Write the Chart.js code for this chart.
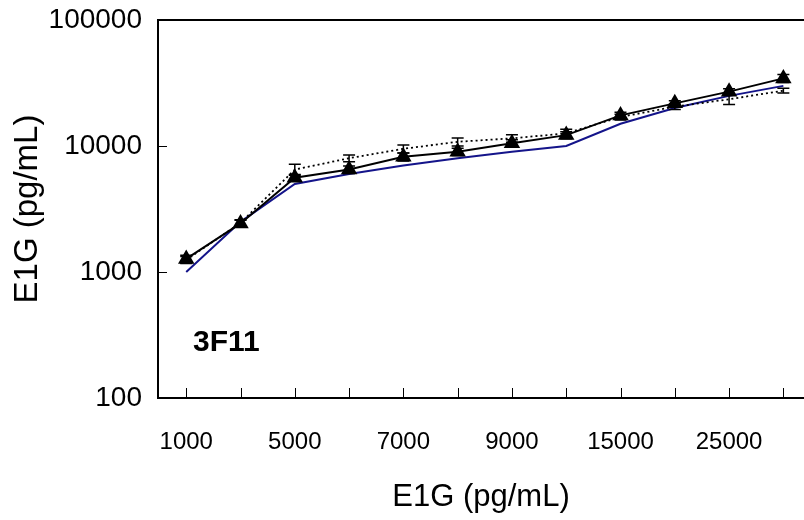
<!DOCTYPE html>
<html>
<head>
<meta charset="utf-8">
<script src="https://cdn.jsdelivr.net/npm/chart.js@4.4.1/dist/chart.umd.min.js"></script>
<style>
  body { margin: 0; background: #fff; }
  #wrap { width: 804px; height: 520px; }
</style>
</head>
<body>
<div id="wrap"><canvas id="e1gChart" width="804" height="520"></canvas></div>
<script>
// spiked E1G concentration (pg/mL)
const xLabels = ['1000', '2500', '5000', '6000', '7000', '8000', '9000', '10000', '15000', '20000', '25000', '30000'];
const expected = [1000, 2500, 5000, 6000, 7000, 8000, 9000, 10000, 15000, 20000, 25000, 30000];

// measured E1G, solid series with triangles
const measured = [1270, 2430, 5600, 6500, 8200, 9000, 10500, 12200, 17500, 21800, 27000, 34400];
const measuredErr = [90, 150, 350, 450, 600, 600, 700, 800, 1000, 1100, 1500, 2500];

// measured E1G, dotted series
const dotted = [1250, 2450, 6500, 8000, 9500, 10800, 11500, 12600, 17000, 20500, 23500, 27500];
const dottedErr = [80, 150, 650, 500, 700, 800, 800, 1000, 900, 1000, 2200, 1200];

const yTicks = [100, 1000, 10000, 100000];
const panelLabel = '3F11';

const FONT = "'Liberation Sans', Arial, sans-serif";

const toPoints = arr => arr.map((v, i) => ({ x: i, y: v }));

// error bars with caps, drawn on top of the lines
const errorBarPlugin = {
  id: 'errorBars',
  afterDatasetsDraw(chart) {
    const { ctx } = chart;
    const xs = chart.scales.x;
    const ys = chart.scales.y;
    chart.data.datasets.forEach(ds => {
      if (!ds.errors) return;
      ctx.save();
      ctx.strokeStyle = '#000';
      ctx.lineWidth = 1.5;
      ds.data.forEach((p, i) => {
        const e = ds.errors[i];
        const px = xs.getPixelForValue(p.x);
        const top = ys.getPixelForValue(p.y + e);
        const bot = ys.getPixelForValue(p.y - e);
        ctx.beginPath();
        ctx.moveTo(px, top);
        ctx.lineTo(px, bot);
        ctx.moveTo(px - 6, top);
        ctx.lineTo(px + 6, top);
        ctx.moveTo(px - 6, bot);
        ctx.lineTo(px + 6, bot);
        ctx.stroke();
      });
      ctx.restore();
    });
  }
};

// inward tick marks, top frame line and the panel label
const framePlugin = {
  id: 'frame',
  afterDraw(chart) {
    const { ctx, chartArea } = chart;
    const xs = chart.scales.x;
    const ys = chart.scales.y;
    ctx.save();
    ctx.strokeStyle = '#000';
    ctx.lineWidth = 1;
    yTicks.forEach(v => {
      const py = Math.round(ys.getPixelForValue(v)) + 0.5;
      ctx.beginPath();
      ctx.moveTo(chartArea.left, py);
      ctx.lineTo(chartArea.left + 9, py);
      ctx.stroke();
    });
    xLabels.forEach((_, i) => {
      const px = Math.round(xs.getPixelForValue(i)) + 0.5;
      ctx.beginPath();
      ctx.moveTo(px, chartArea.bottom);
      ctx.lineTo(px, chartArea.bottom - 10);
      ctx.stroke();
    });
    ctx.lineWidth = 2;
    ctx.beginPath();
    ctx.moveTo(chartArea.left - 1, chartArea.top);
    ctx.lineTo(chartArea.right, chartArea.top);
    ctx.stroke();

    ctx.fillStyle = '#000';
    ctx.font = 'bold 30px ' + FONT;
    ctx.textBaseline = 'middle';
    ctx.fillText(panelLabel, chartArea.left + 35, 343);
    ctx.restore();
  }
};

new Chart(document.getElementById('e1gChart'), {
  type: 'line',
  data: {
    datasets: [
      {
        label: 'expected',
        data: toPoints(expected),
        borderColor: '#14148a',
        borderWidth: 2,
        pointRadius: 0,
        fill: false,
        order: 3,
      },
      {
        label: 'dotted',
        data: toPoints(dotted),
        errors: dottedErr,
        borderColor: '#000',
        borderWidth: 1.8,
        borderDash: [2, 3],
        pointRadius: 0,
        fill: false,
        order: 2,
      },
      {
        label: 'measured',
        data: toPoints(measured),
        errors: measuredErr,
        borderColor: '#000',
        borderWidth: 2,
        pointStyle: 'triangle',
        pointRadius: 7.5,
        pointBackgroundColor: '#000',
        pointBorderColor: '#000',
        fill: false,
        order: 1,
      },
    ],
  },
  options: {
    responsive: false,
    animation: false,
    devicePixelRatio: 1,
    layout: {
      autoPadding: false,
      padding: { top: 20, right: 0, left: 0, bottom: 0 },
    },
    plugins: {
      legend: { display: false },
      tooltip: { enabled: false },
    },
    scales: {
      x: {
        type: 'linear',
        min: -0.52,
        max: 11.38,
        afterBuildTicks(scale) {
          scale.ticks = xLabels.map((_, i) => ({ value: i }));
        },
        afterFit(scale) {
          scale.height = 122;
          scale.paddingLeft = 0;
          scale.paddingRight = 0;
        },
        grid: { display: false, drawTicks: false },
        border: { display: true, color: '#000', width: 2 },
        ticks: {
          autoSkip: false,
          maxRotation: 0,
          padding: 30,
          color: '#000',
          font: { family: FONT, size: 24 },
          callback(value) {
            return value % 2 === 0 ? xLabels[value] : '';
          },
        },
        title: {
          display: true,
          text: 'E1G (pg/mL)',
          color: '#000',
          font: { family: FONT, size: 31 },
          padding: { top: 0, bottom: 4 },
        },
      },
      y: {
        type: 'logarithmic',
        min: 100,
        max: 100000,
        afterBuildTicks(scale) {
          scale.ticks = yTicks.map(v => ({ value: v }));
        },
        afterFit(scale) {
          scale.width = 158;
          scale.paddingTop = 0;
          scale.paddingBottom = 0;
        },
        grid: { display: false, drawTicks: false },
        border: { display: true, color: '#000', width: 2 },
        ticks: {
          padding: 16,
          color: '#000',
          font: { family: FONT, size: 28 },
          callback(value) { return String(value); },
        },
        title: {
          display: true,
          text: 'E1G (pg/mL)',
          color: '#000',
          font: { family: FONT, size: 33 },
          padding: { top: 8, bottom: 0 },
        },
      },
    },
  },
  plugins: [errorBarPlugin, framePlugin],
});
</script>
</body>
</html>
